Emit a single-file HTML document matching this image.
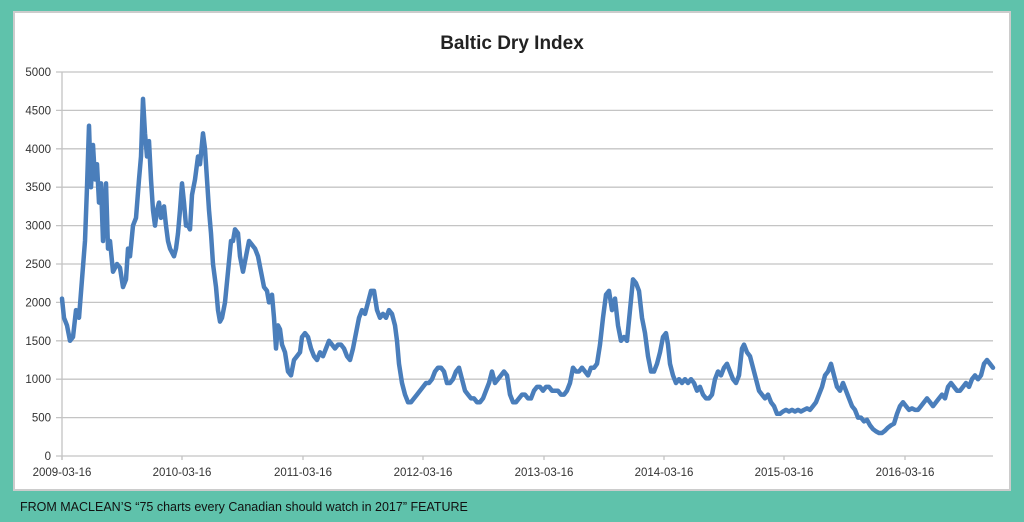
<!DOCTYPE html>
<html><head><meta charset="utf-8"><style>
body{margin:0;width:1024px;height:522px;background:#5fc2ab;overflow:hidden;font-family:"Liberation Sans",sans-serif;}
svg{position:absolute;left:0;top:0}
</style></head><body>
<svg width="1024" height="522" xmlns="http://www.w3.org/2000/svg">
<rect x="14" y="12" width="996" height="478" fill="#fff" stroke="#ccc" stroke-width="2"/>
<text x="512" y="49" text-anchor="middle" font-size="19" font-weight="bold" fill="#222" font-family="Liberation Sans, sans-serif">Baltic Dry Index</text>
<g id="grid" stroke="#c4c4c4" stroke-width="1.3"></g>
<g id="lab" font-size="11.5" fill="#333" font-family="Liberation Sans, sans-serif"></g>
<polyline id="line" fill="none" stroke="#4a7ebb" stroke-width="4.5" stroke-linejoin="round" stroke-linecap="round"/>
<text x="20" y="511" font-size="12.5" fill="#111" font-family="Liberation Sans, sans-serif">FROM MACLEAN’S “75 charts every Canadian should watch in 2017” FEATURE</text>
</svg>
<script>
var ns="http://www.w3.org/2000/svg";
function Y(v){return 456-v*0.0768;}
var g=document.getElementById('grid'),l=document.getElementById('lab');
function el(p,t,a,txt){var e=document.createElementNS(ns,t);for(var k in a)e.setAttribute(k,a[k]);if(txt)e.textContent=txt;p.appendChild(e);}
for(var v=0;v<=5000;v+=500){var y=Y(v);el(g,'line',{x1:56,x2:993,y1:y,y2:y});el(l,'text',{x:51,y:y+4,'text-anchor':'end'},String(v));}
el(g,'line',{x1:62,x2:62,y1:Y(5000),y2:460});
var xs=[62,182,303,423,544,664,784,905],yr=2009;
xs.forEach(function(x,i){el(g,'line',{x1:x,x2:x,y1:456,y2:460});el(l,'text',{x:x,y:476,'text-anchor':'middle'},(2009+i)+'-03-16');});
var d=[62,2050,64,1800,67,1700,70,1500,73,1550,76,1900,79,1800,82,2300,85,2800,87,3500,89,4300,91,3500,93,4050,95,3600,97,3800,99,3300,101,3550,103,2800,106,3550,108,2700,110,2800,113,2400,117,2500,120,2450,123,2200,126,2300,128,2700,130,2600,133,3000,136,3100,139,3600,141,3900,143,4650,145,4200,147,3900,149,4100,151,3600,153,3200,155,3000,157,3200,159,3300,161,3100,164,3250,166,3000,168,2800,170,2700,172,2650,174,2600,176,2700,178,2900,180,3200,182,3550,184,3300,186,3000,188,3000,190,2950,192,3400,195,3600,198,3900,200,3800,203,4200,205,4000,207,3600,209,3200,211,2900,213,2500,216,2200,218,1900,220,1750,222,1800,225,2000,228,2400,231,2800,233,2800,235,2950,238,2900,240,2600,243,2400,246,2600,249,2800,252,2750,255,2700,258,2600,261,2400,264,2200,267,2150,269,2000,272,2100,274,1800,276,1400,278,1700,280,1650,282,1450,285,1350,288,1100,291,1050,294,1250,297,1300,300,1350,302,1550,305,1600,308,1550,311,1400,314,1300,317,1250,320,1350,323,1300,326,1400,329,1500,332,1450,335,1400,338,1450,341,1450,344,1400,347,1300,350,1250,353,1400,356,1600,359,1800,362,1900,365,1850,368,2000,371,2150,374,2150,377,1900,380,1800,383,1850,386,1800,389,1900,392,1850,395,1700,397,1500,399,1200,402,950,405,800,408,700,411,700,414,750,417,800,420,850,423,900,426,950,429,950,432,1000,435,1100,438,1150,441,1150,444,1100,447,950,450,950,453,1000,456,1100,459,1150,462,1000,465,850,468,800,471,750,474,750,477,700,480,700,483,750,486,850,489,950,492,1100,495,950,498,1000,501,1050,504,1100,507,1050,510,800,513,700,516,700,519,750,522,800,525,800,528,750,531,750,534,850,537,900,540,900,543,850,546,900,549,900,552,850,555,850,558,850,561,800,564,800,567,850,570,950,573,1150,576,1100,579,1100,582,1150,585,1100,588,1050,591,1150,594,1150,597,1200,600,1450,603,1800,606,2100,609,2150,612,1900,615,2050,618,1700,621,1500,624,1550,627,1500,630,1900,633,2300,636,2250,639,2150,642,1800,645,1600,648,1300,651,1100,654,1100,657,1200,660,1350,663,1550,666,1600,668,1450,670,1200,673,1050,676,950,679,1000,682,950,685,1000,688,950,691,1000,694,950,697,850,700,900,703,800,706,750,709,750,712,800,715,1000,718,1100,721,1050,724,1150,727,1200,730,1100,733,1000,736,950,739,1050,742,1400,744,1450,747,1350,750,1300,753,1150,756,1000,759,850,762,800,765,750,768,800,771,700,774,650,777,550,780,550,783,580,786,600,789,580,792,600,795,580,798,600,801,580,804,600,807,620,810,600,813,650,816,700,819,800,822,900,825,1050,828,1100,831,1200,834,1050,837,900,840,850,843,950,846,850,849,750,852,650,855,600,858,500,861,500,864,450,867,470,870,400,873,350,876,320,879,300,882,300,885,330,888,370,891,400,894,420,897,550,900,650,903,700,906,650,909,600,912,620,915,600,918,600,921,650,924,700,927,750,930,700,933,650,936,700,939,750,942,800,945,750,948,900,951,950,954,900,957,850,960,850,963,900,966,950,969,900,972,1000,975,1050,978,1000,981,1050,984,1200,987,1250,990,1200,993,1150];
var pts=[];for(var i=0;i<d.length;i+=2)pts.push(d[i]+','+Y(d[i+1]).toFixed(1));
document.getElementById('line').setAttribute('points',pts.join(' '));
</script>
</body></html>
